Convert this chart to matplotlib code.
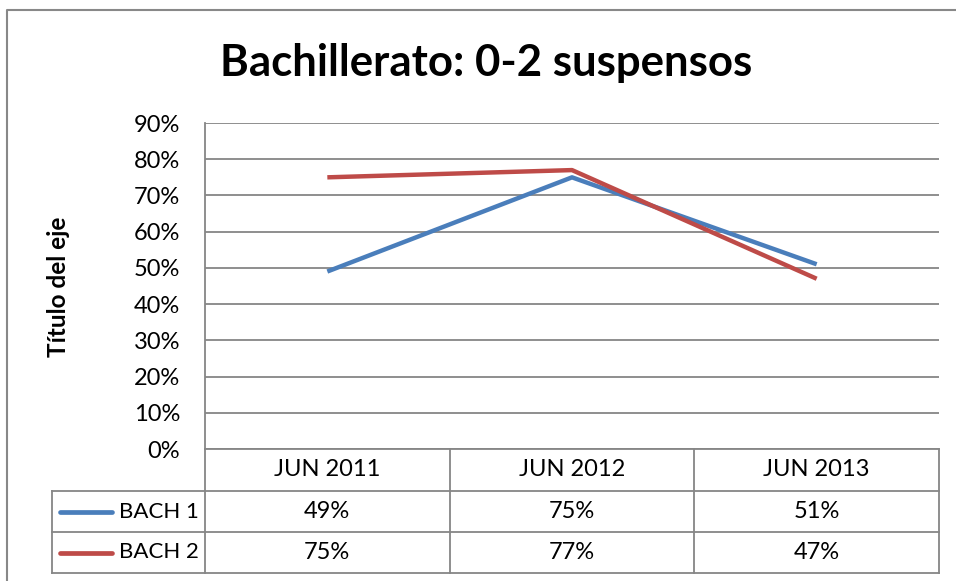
import matplotlib
matplotlib.use("Agg")
import matplotlib.pyplot as plt
from matplotlib.lines import Line2D

categories = ["JUN 2011", "JUN 2012", "JUN 2013"]
series_names = ["BACH 1", "BACH 2"]
bach1 = [0.49, 0.75, 0.51]
bach2 = [0.75, 0.77, 0.47]
series_values = [bach1, bach2]
colors = ["#4A7EBB", "#BE4B48"]
yticks = [0.0, 0.1, 0.2, 0.3, 0.4, 0.5, 0.6, 0.7, 0.8, 0.9]
title = "Bachillerato: 0-2 suspensos"
ylabel = "Título del eje"

W, H = 956, 581
FONT = "Lato"
GRID = "#868686"
FS = 17

fig = plt.figure(figsize=(W / 100, H / 100), dpi=100)
fig.patch.set_facecolor("white")

def fx(px):
    return px / W

def fy(py):
    return 1 - py / H

# main plot area
L, R, T, B = 205, 939, 123, 449
ax = fig.add_axes([fx(L), fy(B), fx(R) - fx(L), fy(T) - fy(B)])
ax.set_xlim(-0.5, len(categories) - 0.5)
ax.set_ylim(0, 0.9)
for s in ["top", "right", "bottom"]:
    ax.spines[s].set_visible(False)
ax.spines["left"].set_color(GRID)
ax.spines["left"].set_linewidth(1.3)
ax.set_yticks(yticks)
ax.set_yticklabels([f"{int(round(v * 100))}%" for v in yticks], fontsize=FS, family=FONT)
ax.tick_params(axis="y", length=0, pad=18)
ax.tick_params(axis="x", length=0, labelbottom=False)
for v in yticks:
    ax.axhline(v, color=GRID, lw=1.3, zorder=1)
x = list(range(len(categories)))
for vals, c in zip(series_values, colors):
    ax.plot(x, vals, color=c, lw=3.2, solid_capstyle="butt", zorder=3)

# overlay axes in pixel coords for frame and table
ov = fig.add_axes([0, 0, 1, 1])
ov.set_xlim(0, W)
ov.set_ylim(H, 0)
ov.axis("off")
ov.patch.set_alpha(0)

# outer chart frame
ov.add_line(Line2D([7, 7, W + 5], [H + 5, 10, 10], color="#888888", lw=1.5))

# title
ov.text(486, 63, title, ha="center", va="center", fontsize=31.5, fontweight="bold", family=FONT)
# y label
ov.text(59, 287, ylabel, ha="center", va="center", rotation=90, fontsize=17.5, fontweight="bold", family=FONT)

# table
col_edges = [L + (R - L) * i / len(categories) for i in range(len(categories) + 1)]
row_edges = [B, 491, 532, 573]
TL = 52
lw = 1.3
# horizontal lines
ov.add_line(Line2D([L, R], [row_edges[0]] * 2, color=GRID, lw=lw))
for ry in row_edges[1:]:
    ov.add_line(Line2D([TL, R], [ry, ry], color=GRID, lw=lw))
# vertical lines
ov.add_line(Line2D([TL, TL], [row_edges[1], row_edges[-1]], color=GRID, lw=lw))
for cx in col_edges:
    ov.add_line(Line2D([cx, cx], [row_edges[0], row_edges[-1]], color=GRID, lw=lw))

for i, cat in enumerate(categories):
    cxm = (col_edges[i] + col_edges[i + 1]) / 2
    ov.text(cxm, (row_edges[0] + row_edges[1]) / 2, cat, ha="center", va="center", fontsize=FS, family=FONT)

for j, (name, vals, c) in enumerate(zip(series_names, series_values, colors)):
    ym = (row_edges[j + 1] + row_edges[j + 2]) / 2
    ov.add_line(Line2D([60, 112], [ym, ym], color=c, lw=3.4, solid_capstyle="round"))
    ov.text(199, ym, name, ha="right", va="center", fontsize=16, family=FONT)
    for i, v in enumerate(vals):
        cxm = (col_edges[i] + col_edges[i + 1]) / 2
        ov.text(cxm, ym, f"{int(round(v * 100))}%", ha="center", va="center", fontsize=FS, family=FONT)

fig.savefig("out.png", dpi=100)
